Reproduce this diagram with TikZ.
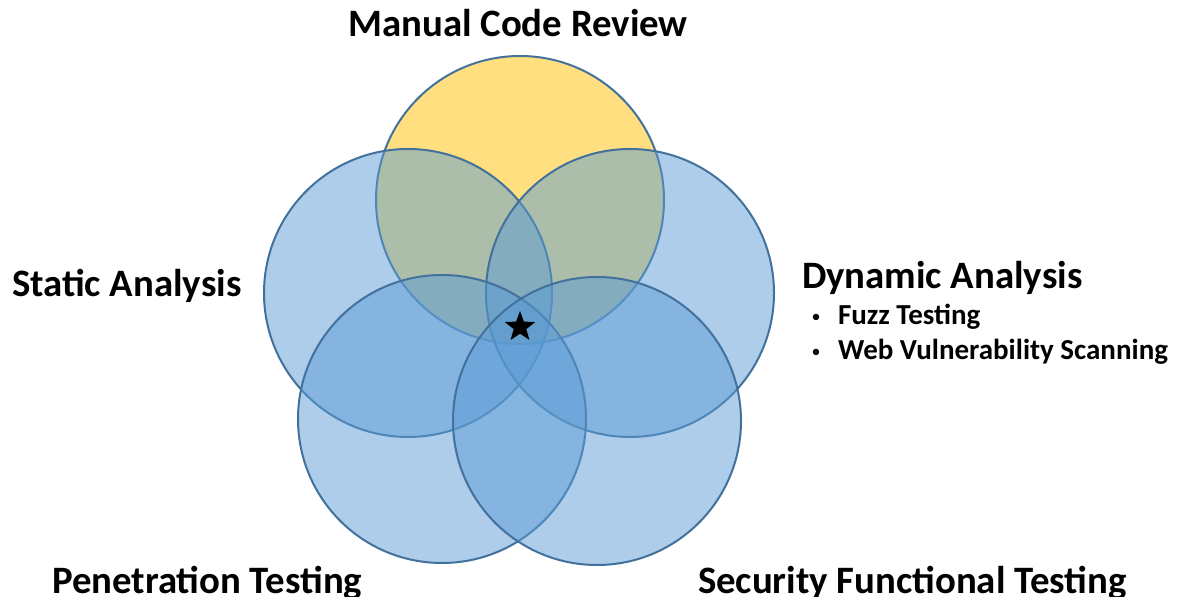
\documentclass[tikz,border=0pt]{standalone}
\usepackage{fontspec}
\setmainfont{Carlito}
\usetikzlibrary{shapes.geometric}

\newlength{\du}
\setlength{\du}{0.5pt}

\definecolor{vennblue}{rgb}{0.356863, 0.607843, 0.835294}
\definecolor{vennyellow}{rgb}{1.000000, 0.752941, 0.000000}
\definecolor{vennline}{rgb}{0.254902, 0.443137, 0.611765}

\tikzset{
  venn/.style={circle, inner sep=0pt, outer sep=0pt, minimum size=288\du,
    fill=#1, fill opacity=0.5, draw=vennline, line width=2\du},
  bigtext/.style={inner sep=0pt, outer sep=0pt, font=\bfseries\fontsize{19.4}{23}\selectfont},
  smalltext/.style={inner sep=0pt, outer sep=0pt, font=\bfseries\fontsize{14.5}{17}\selectfont},
  dot/.style={inner sep=0pt, outer sep=0pt, font=\fontsize{9}{10}\selectfont}
}

\begin{document}
\begin{tikzpicture}[even odd rule]
\pgftransformxscale{1.000000}
\pgftransformyscale{-1.000000}
\useasboundingbox (0\du,0\du) rectangle (1177\du,597\du);
% circles, yellow first
\node[venn=vennyellow] (review) at (520\du,200\du) {};
\node[venn=vennblue] (static) at (408\du,293\du) {};
\node[venn=vennblue] (dynamic) at (630\du,293\du) {};
\node[venn=vennblue] (pentest) at (442\du,419\du) {};
\node[venn=vennblue] (sectest) at (597\du,421\du) {};
% centre mark
\node[star, star points=5, star point ratio=2.4, fill=black, inner sep=0pt, minimum size=32\du] (mark) at (520\du,327\du) {};
% labels
\node[bigtext, anchor=base] (reviewlabel) at (518\du,37\du) {Manual Code Review};
\node[bigtext, anchor=base west] (staticlabel) at (12\du,297\du) {Static Analysis};
\node[bigtext, anchor=base west] (dynamiclabel) at (802\du,289\du) {Dynamic Analysis};
\node[dot] (fuzzdot) at (816\du,318\du) {•};
\node[smalltext, anchor=base west] (fuzz) at (838\du,325\du) {Fuzz Testing};
\node[dot] (webdot) at (816\du,353\du) {•};
\node[smalltext, anchor=base west] (web) at (838\du,360\du) {Web Vulnerability Scanning};
\node[bigtext, anchor=base west] (pentestlabel) at (52\du,594\du) {Penetration Testing};
\node[bigtext, anchor=base west] (sectestlabel) at (698\du,594\du) {Security Functional Testing};
\end{tikzpicture}
\end{document}
